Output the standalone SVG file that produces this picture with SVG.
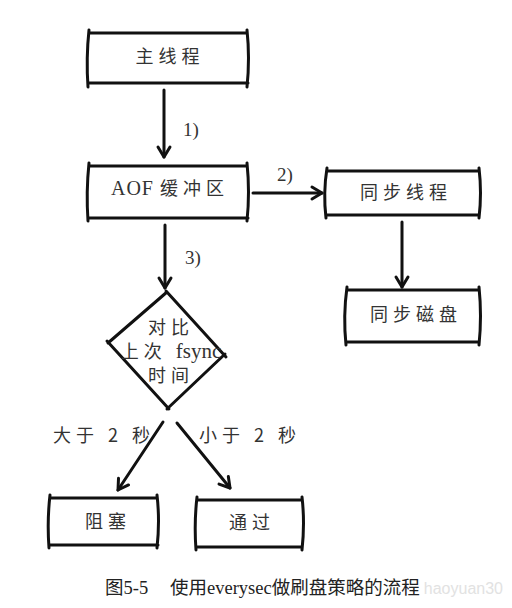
<svg xmlns="http://www.w3.org/2000/svg" width="512" height="608" viewBox="0 0 512 608">
<style>
.b{fill:none;stroke:#111;stroke-width:3;stroke-linecap:round;stroke-linejoin:round}
.c{fill:none;stroke:#111;stroke-width:3;stroke-linecap:round}
.t{font-family:"Noto Sans CJK SC","Liberation Serif",serif;font-size:18px;fill:#333;letter-spacing:5px;text-anchor:middle}
.l{font-family:"Liberation Serif","Noto Sans CJK SC",serif;font-size:19px;fill:#333}
.cap{font-family:"Liberation Serif","Noto Sans CJK SC",serif;font-size:18.5px;fill:#222}
</style>
<defs>
<marker id="ah" viewBox="-13 -9 16 18" refX="0" refY="0" markerWidth="16" markerHeight="18" markerUnits="userSpaceOnUse" orient="auto">
<path d="M-10,-6 L0,0 L-10,6" fill="none" stroke="#111" stroke-width="3" stroke-linejoin="round" stroke-linecap="round"/>
</marker>
</defs>
<rect width="512" height="608" fill="#fff"/>
<g id="main">
<path class="b" d="M89,33 L247,33 M89,83 L248,83 M89,30 Q86,58 88,87 M247,30 Q250,58 247,87"/>
<text class="t" x="170" y="63">主线程</text>
</g>
<g id="aof">
<path class="b" d="M89,166 L247,166 M89,218 L248,218 M89,163 Q86,192 88,221 M247,163 Q250,192 247,221"/>
<text class="t" x="170" y="195"><tspan font-family="Liberation Serif" font-size="20" letter-spacing="1">AOF </tspan>缓冲区</text>
</g>
<g id="syncthread">
<path class="b" d="M327,171 L479,171 M327,215 L479,215 M327,168 Q323,193 326,218 M479,168 Q482,193 479,218"/>
<text class="t" x="406" y="199">同步线程</text>
</g>
<g id="syncdisk">
<path class="b" d="M347,290 L479,290 M347,342 L479,342 M347,287 Q343,316 346,345 M479,287 Q482,316 479,345"/>
<text class="t" x="416" y="321">同步磁盘</text>
</g>
<g id="compare">
<path class="b" d="M167,292 L108,343 M107,341 L169,409 M167,409 L225,354 M226,357 L166,291"/>
<text class="t" x="171" y="334">对比</text>
<text class="t" x="171" y="358" letter-spacing="3">上次 <tspan font-family="Liberation Serif" font-size="21" letter-spacing="0">fsync</tspan></text>
<text class="t" x="171" y="382">时间</text>
</g>
<g id="block">
<path class="b" d="M50,498 L157,498 M50,545 L158,545 M50,495 Q47,521 49,548 M157,495 Q160,521 157,548"/>
<text class="t" x="108" y="528">阻塞</text>
</g>
<g id="pass">
<path class="b" d="M197,500 L302,500 M197,547 L302,547 M197,497 Q194,523 196,550 M302,497 Q305,523 302,550"/>
<text class="t" x="252" y="529">通过</text>
</g>
<g id="connectors">
<path class="c" d="M164,90 L164,157" marker-end="url(#ah)"/>
<path class="c" d="M253,193 L322,193" marker-end="url(#ah)"/>
<path class="c" d="M165,225 L165,288" marker-end="url(#ah)"/>
<path class="c" d="M402,222 L402,287" marker-end="url(#ah)"/>
<path class="c" d="M163,422 L118,490" marker-end="url(#ah)"/>
<path class="c" d="M177,423 L230,488" marker-end="url(#ah)"/>
<text class="l" x="183" y="136">1)</text>
<text class="l" x="277" y="181">2)</text>
<text class="l" x="185" y="264">3)</text>
<text class="t" x="104" y="442" font-size="17" letter-spacing="4">大于 2 秒</text>
<text class="t" x="250" y="442" font-size="17" letter-spacing="4">小于 2 秒</text>
</g>
<text x="503" y="594" font-family="Liberation Sans, sans-serif" font-size="16" fill="#e2e2e2" text-anchor="end">haoyuan30</text>
<text class="cap" x="105" y="594">图5-5<tspan x="170">使用everysec做刷盘策略的流程</tspan></text>
</svg>
